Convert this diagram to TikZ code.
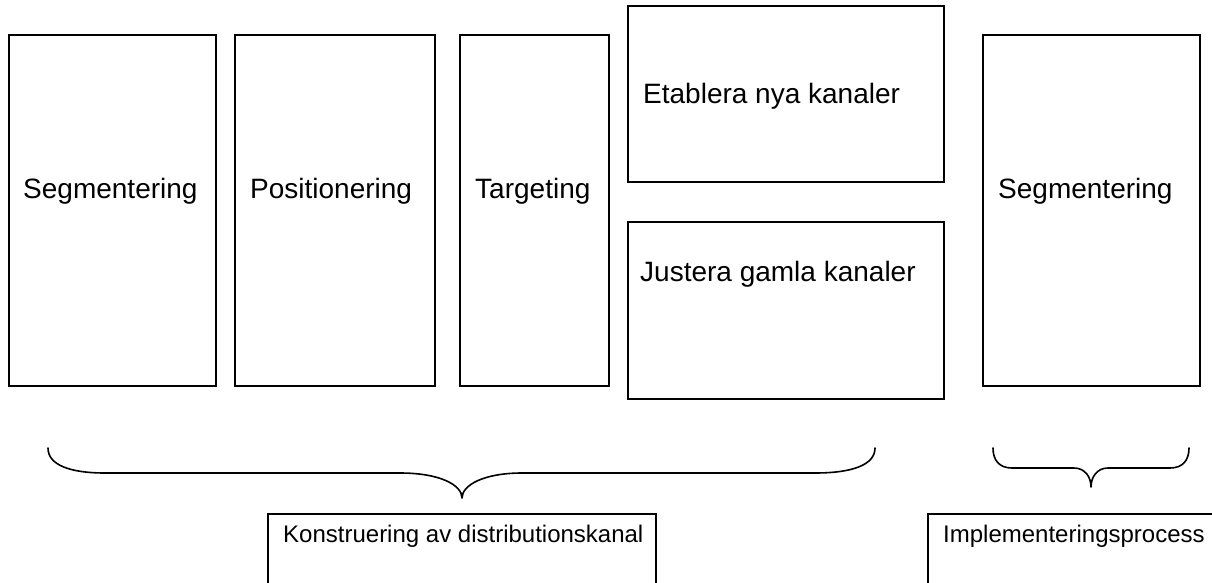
\documentclass[tikz,border=0pt]{standalone}
\usepackage{fontspec}
\setmainfont{Liberation Sans}
\begin{document}
\begin{tikzpicture}[x=1pt,y=-1pt,
  boxline/.style={draw=black,line width=1.8pt},
  bigtext/.style={inner sep=0pt,anchor=base west,font=\fontsize{28}{34}\selectfont},
  smalltext/.style={inner sep=0pt,anchor=base west,font=\fontsize{24}{29}\selectfont},
  braceline/.style={draw=black,line width=1.6pt,line cap=round,line join=round}]
\useasboundingbox (0,0) rectangle (1212,582);
\clip (0,0) rectangle (1212,582);
% top row boxes
\node[boxline,inner sep=0pt,minimum width=207pt,minimum height=351pt] (b1) at (112.5,210.5) {};
\node[boxline,inner sep=0pt,minimum width=200pt,minimum height=351pt] (b2) at (335,210.5) {};
\node[boxline,inner sep=0pt,minimum width=149pt,minimum height=351pt] (b3) at (534.5,210.5) {};
\node[boxline,inner sep=0pt,minimum width=316pt,minimum height=176pt] (b4) at (786,94) {};
\node[boxline,inner sep=0pt,minimum width=316pt,minimum height=177pt] (b5) at (786,310.5) {};
\node[boxline,inner sep=0pt,minimum width=217pt,minimum height=351pt] (b6) at (1091.5,210.5) {};
% texts
\node[bigtext] (t1) at (23,198) {Segmentering};
\node[bigtext] (t2) at (250,198) {Positionering};
\node[bigtext] (t3) at (475,198) {Targeting};
\node[bigtext] (t4) at (643,103) {Etablera nya kanaler};
\node[bigtext] (t5) at (640,281) {Justera gamla kanaler};
\node[bigtext] (t6) at (998,198) {Segmentering};
% bottom boxes (run past the lower edge)
\node[boxline,inner sep=0pt,minimum width=388pt,minimum height=120pt] (k) at (462,574) {};
\node[boxline,inner sep=0pt,minimum width=320pt,minimum height=120pt] (im) at (1088,574) {};
\node[smalltext] (kt) at (283,542) {Konstruering av distributionskanal};
\node[smalltext] (it) at (943,542) {Implementeringsprocess};
% braces
\coordinate (lb1) at (48,448);
\coordinate (lbt) at (462,498);
\coordinate (lb2) at (875,448);
\draw[braceline] (lb1) .. controls (48,465) and (70,473) .. (105,473)
  -- (400,473) .. controls (440,473) and (462,485) .. (lbt)
  .. controls (462,485) and (484,473) .. (522,473)
  -- (815,473) .. controls (852,473) and (875,465) .. (lb2);
\coordinate (rb1) at (993,448);
\coordinate (rbt) at (1091,487);
\coordinate (rb2) at (1189,448);
\draw[braceline] (rb1) .. controls (993,460) and (999,468) .. (1012,468)
  -- (1074,468) .. controls (1085,468) and (1091,477) .. (rbt)
  .. controls (1091,477) and (1097,468) .. (1108,468)
  -- (1170,468) .. controls (1183,468) and (1189,460) .. (rb2);
\end{tikzpicture}
\end{document}
